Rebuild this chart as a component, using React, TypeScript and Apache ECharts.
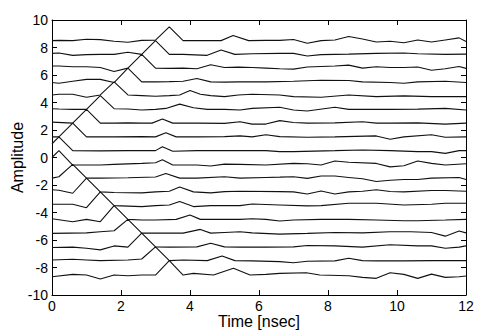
import React, { useEffect, useRef } from "react";
import * as echarts from "echarts";

const offsets = [8.5, 7.5, 6.5, 5.5, 4.5, 3.5, 2.5, 1.5, 0.5, -0.5, -1.5, -2.5, -3.5, -4.5, -5.5, -6.5, -7.5, -8.5];

// [time (nsec), deviation from offset]
const trace85 = [[0,0],[0.2,0.02],[0.6,0],[1.0,0.1],[1.4,0.07],[1.8,-0.05],[2.2,-0.12],[2.6,0.02],[3.0,0.03],[3.4,1.0],[3.8,0],[4.2,0],[4.9,0],[5.25,0.37],[5.7,0],[6.2,0.02],[6.6,0.02],[7.0,0.08],[7.4,-0.19],[7.8,0],[8.2,0.05],[8.6,0.3],[9.0,0.12],[9.4,-0.1],[9.8,-0.05],[10.2,-0.15],[10.6,0.05],[11.0,-0.1],[11.4,0.05],[11.8,0.2],[12.0,-0.07]];
const trace75 = [[0,0.07],[0.2,0.1],[0.6,-0.07],[1.0,-0.02],[1.4,0],[1.8,0],[2.2,0.15],[2.6,0],[3.0,1.0],[3.4,0],[3.8,0],[4.5,-0.07],[4.9,0.32],[5.3,0],[5.8,0.05],[6.6,0.07],[7.0,0.07],[7.4,-0.12],[7.8,-0.02],[8.6,0.02],[9.4,0.07],[10.2,0.1],[10.6,0.05],[11.4,0],[12.0,0.02]];
const trace65 = [[0,0.15],[0.2,0.15],[0.6,0.1],[1.0,0.1],[1.4,0.05],[1.8,-0.25],[2.2,0],[2.6,1.0],[3.0,0],[3.4,-0.02],[3.8,0],[4.2,-0.05],[4.6,0.25],[5.0,0.05],[5.4,0.07],[5.8,0.05],[6.2,0],[6.6,-0.05],[7.0,-0.07],[7.4,0.08],[7.8,0.12],[8.2,0.15],[8.6,0.22],[9.0,0],[9.4,0.1],[9.8,0.05],[10.2,0.05],[10.6,0.08],[11.0,-0.15],[11.4,-0.05],[11.8,0.12],[12.0,-0.02]];
const trace55 = [[0,-0.05],[0.2,-0.1],[0.6,0.05],[1.0,0.18],[1.4,0.18],[1.8,-0.05],[2.2,1.0],[2.6,0],[3.0,0],[3.4,0.02],[3.8,0.05],[4.2,0.25],[4.6,0],[5.0,-0.02],[5.4,0],[6.2,0],[7.0,0.05],[7.8,0.12],[8.6,0.1],[9.0,0],[9.8,-0.05],[10.2,-0.1],[10.6,0],[11.4,0.05],[12.0,-0.05]];
const trace45 = [[0,0.05],[0.2,0.1],[0.6,0.1],[1.0,-0.12],[1.4,0.05],[1.8,1.0],[2.2,0.05],[2.6,0],[3.0,-0.05],[3.4,0],[3.7,0.05],[4.0,0.38],[4.3,0.1],[4.6,0],[5.0,-0.07],[5.4,0.05],[5.8,0.1],[6.6,0.05],[7.0,-0.07],[7.8,-0.12],[8.6,0.05],[9.4,-0.07],[10.2,-0.02],[11.0,-0.07],[12.0,-0.07]];
const trace35 = [[0,0.05],[0.2,0.03],[0.6,0],[1.0,0],[1.4,1.0],[1.8,0.05],[2.2,0.03],[2.6,-0.05],[3.0,0],[3.3,0.07],[3.7,0.38],[4.1,0.12],[4.5,0],[5.0,0],[5.45,-0.05],[5.8,0.07],[6.6,0.15],[7.0,-0.05],[7.4,-0.12],[8.2,0.15],[8.6,0],[9.8,0],[10.6,0.02],[11.4,0.07],[12.0,-0.05]];
const trace25 = [[0,0.07],[0.6,0],[1.0,1.0],[1.4,0],[1.8,0],[2.2,0.02],[2.6,0],[2.9,0],[3.2,0.3],[3.5,0],[4.2,0],[5.0,-0.02],[5.45,0.1],[5.8,-0.07],[6.2,-0.07],[6.6,0.18],[7.0,0.05],[7.4,0],[8.2,0.02],[9.0,0.1],[9.4,0],[9.8,0],[10.6,0.02],[11.4,-0.07],[12.0,0]];
const trace15 = [[0,0],[0.2,0],[0.6,1.0],[1.0,0],[1.8,0],[2.6,0.02],[3.0,0],[3.3,0.3],[3.6,0],[4.2,0],[5.0,0.02],[5.45,0.07],[5.8,0],[6.2,0.15],[6.6,0.02],[7.4,-0.03],[8.2,0],[9.4,0.07],[9.8,-0.17],[10.2,0],[11.0,0.15],[11.4,-0.03],[12.0,0]];
const trace05 = [[0,0.5],[0.2,1.0],[0.6,0],[1.4,-0.02],[2.2,0],[3.0,0],[3.2,0.28],[3.5,-0.05],[4.2,0],[5.0,0],[5.8,0],[6.2,0],[6.6,-0.07],[7.0,-0.07],[8.2,0],[9.0,0.05],[9.8,0],[10.6,-0.07],[11.0,-0.07],[11.4,-0.2],[11.8,0],[12.0,0]];
const traceM05 = [[0,0.5],[0.2,1.0],[0.6,-0.05],[1.4,-0.05],[1.8,0],[2.6,0.07],[3.0,0.12],[3.2,0.33],[3.5,-0.05],[4.2,-0.05],[4.6,-0.12],[5.0,0.02],[5.45,0],[6.2,-0.05],[7.0,0.07],[7.4,0.05],[7.8,-0.05],[8.2,0.25],[8.6,0.15],[9.4,0.07],[9.8,-0.18],[10.2,-0.1],[10.6,0.25],[11.0,0.07],[11.4,-0.05],[12.0,0.05]];
const traceM15 = [[0,0],[0.2,0.1],[0.6,1.0],[1.0,0],[1.4,0],[2.2,0.03],[3.0,0.08],[3.3,0.33],[3.7,0],[4.2,0],[5.0,0.1],[5.45,0],[6.2,0.05],[6.6,0.07],[7.0,0.1],[7.4,-0.02],[7.8,0.15],[8.2,0.15],[8.6,0.05],[9.0,-0.05],[9.4,-0.25],[9.8,-0.15],[10.2,-0.1],[10.6,-0.1],[11.0,0],[11.8,0.05],[12.0,-0.1]];
const traceM25 = [[0,0.15],[0.2,0.12],[0.6,-0.1],[1.0,1.0],[1.4,0],[1.8,-0.05],[2.6,-0.07],[3.0,0],[3.4,0.05],[3.7,0.35],[4.1,0],[4.6,-0.07],[5.0,0.02],[5.45,0.05],[6.6,0.02],[7.0,0],[7.4,-0.15],[7.8,0.07],[8.2,-0.15],[8.6,0],[9.0,0.05],[9.4,0.15],[9.8,0.03],[10.2,0],[11.0,0.1],[11.4,0.1],[12.0,0.05]];
const traceM35 = [[0,0.1],[0.6,0.1],[1.0,-0.15],[1.4,1.0],[1.8,0],[2.6,-0.07],[3.0,0],[3.4,0.05],[3.7,0.3],[4.1,-0.07],[4.6,0],[5.45,0],[5.8,0.12],[6.6,0.05],[7.4,-0.02],[7.8,0],[8.6,0.17],[9.4,0.17],[10.2,0.05],[11.0,0.1],[11.4,0.17],[12.0,0.17]];
const traceM45 = [[0,0.05],[0.6,-0.17],[1.0,0],[1.4,-0.17],[1.8,1.0],[2.2,0],[2.6,-0.05],[3.0,-0.05],[3.6,0],[4.0,0.32],[4.3,0],[4.6,0],[5.45,0],[5.8,0.05],[6.2,0],[6.6,-0.12],[7.0,-0.05],[7.8,0],[8.6,0],[9.4,-0.05],[10.2,-0.1],[10.6,-0.1],[11.4,-0.05],[12.0,0]];
const traceM55 = [[0,-0.02],[1.0,0.02],[1.4,0.1],[1.8,0.17],[2.2,1.0],[2.6,0],[3.0,0],[3.8,0],[4.3,0.27],[4.6,0],[5.0,0.05],[5.45,0.1],[5.8,0.02],[6.6,-0.07],[7.4,-0.02],[8.2,0.05],[9.0,0.02],[9.8,0.1],[10.4,0.1],[11.0,0.05],[11.4,-0.22],[11.8,0.15],[12.0,0.02]];
const traceM65 = [[0,-0.05],[0.6,-0.02],[1.0,-0.1],[1.4,-0.22],[1.8,0.07],[2.2,-0.02],[2.6,1.0],[3.0,0],[3.4,-0.02],[4.2,0],[4.6,0.27],[5.0,0],[5.45,-0.02],[6.2,-0.02],[7.0,0],[7.4,0.1],[8.2,0.07],[9.0,-0.02],[9.8,0.15],[10.6,0.07],[11.0,0.07],[11.4,-0.1],[11.8,-0.02],[12.0,0.07]];
const traceM75 = [[0,0.05],[0.6,0.1],[1.0,0.05],[1.4,0],[2.2,0.05],[2.6,0.12],[3.0,1.0],[3.4,0],[3.8,0.05],[4.5,0],[4.93,0.34],[5.3,0],[5.8,-0.02],[6.6,-0.07],[7.0,-0.15],[7.4,-0.05],[8.2,-0.02],[8.6,0.17],[9.0,0],[9.4,-0.02],[10.2,-0.02],[11.0,0],[12.0,0]];
const traceM85 = [[0,-0.17],[0.6,0],[1.0,-0.05],[1.4,-0.33],[1.8,-0.05],[2.2,-0.1],[2.6,-0.05],[3.0,-0.05],[3.4,1.0],[3.8,-0.05],[4.1,0.07],[4.68,-0.05],[5.26,0.44],[5.74,-0.05],[6.2,0],[6.6,0.07],[7.37,0.12],[7.76,-0.05],[8.6,-0.1],[9.0,-0.22],[9.4,-0.29],[9.8,0.12],[10.2,0],[10.6,-0.29],[11.0,0.02],[11.4,-0.22],[11.8,-0.17],[12.0,-0.12]];

const traces = [trace85, trace75, trace65, trace55, trace45, trace35, trace25, trace15, trace05,
  traceM05, traceM15, traceM25, traceM35, traceM45, traceM55, traceM65, traceM75, traceM85];

const xTicks = [0, 12, 2];
const yTicks = [-10, 10, 2];

const FONT = "'Liberation Sans', Arial, Helvetica, sans-serif";

export default function App() {
  const ref = useRef<HTMLDivElement>(null);
  useEffect(() => {
    if (!ref.current) return;
    const chart = echarts.init(ref.current, null, { renderer: "svg" });
    const axisLine = { show: true, onZero: false, lineStyle: { color: "#000", width: 1 } };
    const tick = { show: true, inside: true, length: 5, lineStyle: { color: "#000", width: 1 } };
    const series = traces.map((tr, i) => ({
      type: "line",
      xAxisIndex: 0,
      yAxisIndex: 0,
      data: tr.map(([t, d]) => [t, offsets[i] + d]),
      symbol: "none",
      clip: true,
      lineStyle: { color: "#111", width: 1.1 },
      silent: true,
    }));
    chart.setOption({
      animation: false,
      backgroundColor: "#fff",
      grid: { left: 52, right: 12, top: 20, bottom: 36, containLabel: false, outerBoundsMode: "none" },
      xAxis: [
        {
          type: "value", min: xTicks[0], max: xTicks[1], interval: xTicks[2],
          position: "bottom",
          axisLine, axisTick: tick, splitLine: { show: false },
          axisLabel: { color: "#000", fontSize: 14, lineHeight: 14, fontFamily: FONT, margin: 4 },
          name: "Time [nsec]", nameLocation: "middle", nameGap: 18, nameMoveOverlap: false,
          nameTextStyle: { color: "#000", fontSize: 16, lineHeight: 16, fontFamily: FONT },
        },
        {
          type: "value", min: xTicks[0], max: xTicks[1], interval: xTicks[2],
          position: "top",
          axisLine, axisTick: tick, splitLine: { show: false },
          axisLabel: { show: false },
        },
      ],
      yAxis: [
        {
          type: "value", min: yTicks[0], max: yTicks[1], interval: yTicks[2],
          position: "left",
          axisLine, axisTick: tick, splitLine: { show: false },
          axisLabel: { color: "#000", fontSize: 14, fontFamily: FONT, margin: 4 },
          name: "Amplitude", nameLocation: "middle", nameGap: 27, nameRotate: 90, nameMoveOverlap: false,
          nameTextStyle: { color: "#000", fontSize: 16, fontFamily: FONT },
        },
        {
          type: "value", min: yTicks[0], max: yTicks[1], interval: yTicks[2],
          position: "right",
          axisLine, axisTick: tick, splitLine: { show: false },
          axisLabel: { show: false },
        },
      ],
      series,
    });
    return () => chart.dispose();
  }, []);
  return (
    <div
      ref={ref}
      style={{ position: "fixed", left: 0, top: 0, width: 478, height: 331, background: "#fff" }}
    />
  );
}
